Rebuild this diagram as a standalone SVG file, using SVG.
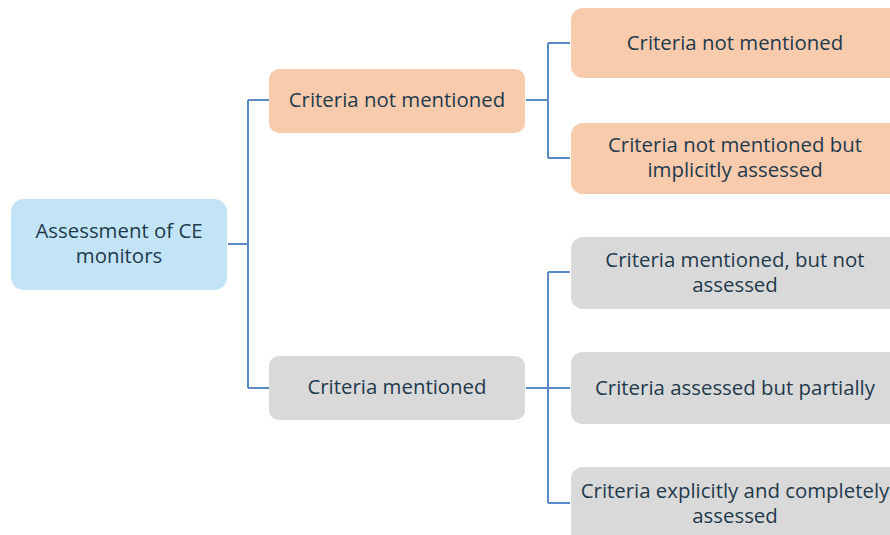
<svg xmlns="http://www.w3.org/2000/svg" width="890" height="535" viewBox="0 0 890 535">
<style>
.t{font-family:"Open Sans","Liberation Sans",sans-serif;font-size:20.4px;fill:#1E3A4C;text-anchor:middle}
.o{fill:#F8CBAD}
.g{fill:#D9D9D9}
.b{fill:#C3E4F7}
.c{fill:none;stroke:#5A8AC6;stroke-width:2}
</style>
<rect width="890" height="535" fill="#fff"/>
<g id="connectors">
<path class="c" d="M228 244H248M248 100V388M248 100H269M248 388H269"/>
<path class="c" d="M526 100H548M548 43V158M548 43H570M548 158H570"/>
<path class="c" d="M526 388H570M548 272V503M548 272H570M548 503H570"/>
</g>
<g id="root"><rect class="b" x="11" y="199" width="216" height="91" rx="13"/>
<text class="t" x="119" y="238">Assessment of CE</text><text class="t" x="119" y="263">monitors</text></g>
<g id="n1"><rect class="o" x="269" y="69" width="256" height="64" rx="10"/>
<text class="t" x="397" y="107">Criteria not mentioned</text></g>
<g id="n2"><rect class="g" x="269" y="356" width="256" height="64" rx="10"/>
<text class="t" x="397" y="394">Criteria mentioned</text></g>
<g id="n11"><rect class="o" x="571" y="8" width="335" height="70" rx="12"/>
<text class="t" x="735" y="50">Criteria not mentioned</text></g>
<g id="n12"><rect class="o" x="571" y="123" width="335" height="71" rx="12"/>
<text class="t" x="735" y="152">Criteria not mentioned but</text><text class="t" x="735" y="177">implicitly assessed</text></g>
<g id="n21"><rect class="g" x="571" y="237" width="335" height="72" rx="12"/>
<text class="t" x="735" y="267">Criteria mentioned, but not</text><text class="t" x="735" y="292">assessed</text></g>
<g id="n22"><rect class="g" x="571" y="352" width="335" height="72" rx="12"/>
<text class="t" x="735" y="395">Criteria assessed but partially</text></g>
<g id="n23"><rect class="g" x="571" y="467" width="335" height="80" rx="12"/>
<text class="t" x="735" y="498">Criteria explicitly and completely</text><text class="t" x="735" y="523">assessed</text></g>
</svg>
